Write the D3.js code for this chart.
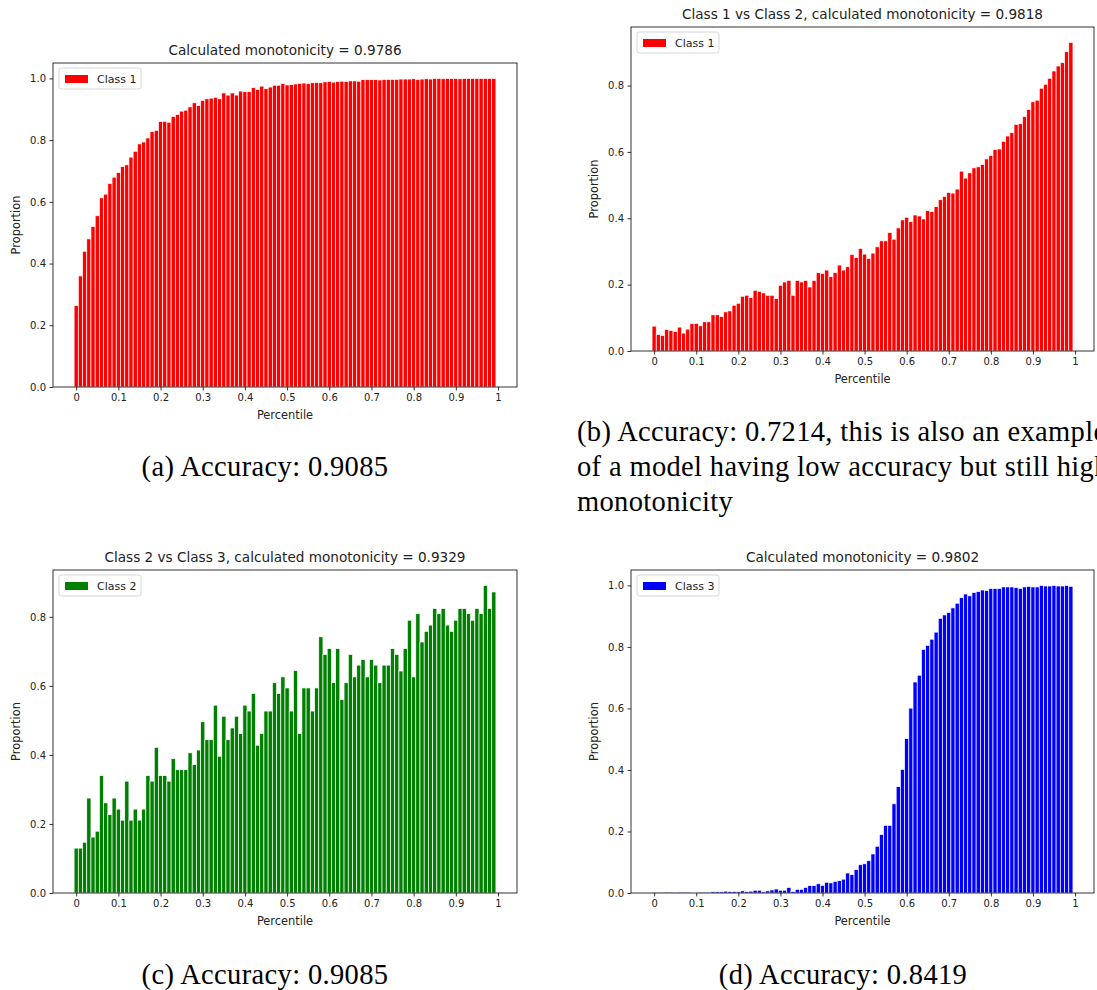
<!DOCTYPE html>
<html>
<head>
<meta charset="utf-8">
<script src="https://cdn.jsdelivr.net/npm/d3@7"></script>
<style>
  html, body { margin: 0; padding: 0; background: #fff; overflow: hidden; }
  svg { display: block; }
</style>
</head>
<body>
<svg id="fig" width="1097" height="990"></svg>
<script>
// Bar positions: one bar per percentile bin
const percentile = d3.range(100).map(i => i / 100);

// (a) proportion of Class 1 per percentile bin
const class1Proportion = [
  0.264,0.36,0.44,0.48,0.52,0.555,0.613,0.625,0.66,0.68,
  0.695,0.714,0.72,0.745,0.764,0.788,0.794,0.807,0.828,0.832,
  0.86,0.861,0.858,0.877,0.883,0.894,0.897,0.908,0.921,0.912,
  0.929,0.934,0.936,0.939,0.934,0.953,0.946,0.953,0.946,0.959,
  0.957,0.957,0.97,0.964,0.975,0.967,0.972,0.978,0.978,0.983,
  0.979,0.98,0.982,0.984,0.985,0.983,0.986,0.987,0.986,0.989,
  0.99,0.988,0.99,0.991,0.99,0.992,0.992,0.991,0.996,0.996,
  0.996,0.996,0.995,0.997,0.997,0.997,0.997,0.998,0.998,0.998,
  0.999,0.997,0.998,0.999,0.998,1,1,0.999,1,1,
  1,0.999,1,1,1,1,1,1,1,1
];

// (b) Class 1 vs Class 2
const class1vs2Proportion = [
  0.075,0.05,0.047,0.065,0.062,0.059,0.072,0.054,0.066,0.083,
  0.083,0.076,0.088,0.088,0.109,0.109,0.104,0.118,0.121,0.138,
  0.144,0.165,0.168,0.161,0.183,0.18,0.175,0.168,0.168,0.158,
  0.198,0.208,0.213,0.168,0.213,0.208,0.213,0.193,0.213,0.236,
  0.234,0.244,0.224,0.236,0.259,0.244,0.254,0.291,0.282,0.309,
  0.292,0.279,0.295,0.314,0.332,0.332,0.357,0.337,0.371,0.395,
  0.403,0.39,0.41,0.407,0.398,0.423,0.42,0.435,0.456,0.466,
  0.478,0.476,0.488,0.542,0.521,0.537,0.552,0.555,0.562,0.579,
  0.589,0.607,0.609,0.632,0.648,0.658,0.683,0.685,0.706,0.728,
  0.751,0.756,0.792,0.804,0.822,0.844,0.859,0.869,0.902,0.93
];

// (c) Class 2 vs Class 3
const class2vs3Proportion = [
  0.13,0.13,0.147,0.275,0.162,0.179,0.34,0.261,0.227,0.275,
  0.243,0.211,0.324,0.211,0.243,0.211,0.243,0.34,0.324,0.422,
  0.34,0.34,0.324,0.389,0.357,0.357,0.357,0.406,0.372,0.414,
  0.496,0.444,0.444,0.544,0.396,0.512,0.444,0.478,0.512,0.462,
  0.544,0.527,0.578,0.428,0.462,0.527,0.527,0.609,0.578,0.626,
  0.594,0.527,0.644,0.462,0.594,0.594,0.527,0.594,0.742,0.691,
  0.708,0.609,0.708,0.56,0.609,0.691,0.626,0.66,0.676,0.626,
  0.676,0.66,0.609,0.66,0.66,0.708,0.691,0.643,0.708,0.79,
  0.626,0.809,0.727,0.758,0.776,0.824,0.809,0.824,0.776,0.758,
  0.79,0.824,0.824,0.809,0.79,0.824,0.809,0.891,0.824,0.872
];

// (d) proportion of Class 3 per percentile bin
const class3Proportion = [
  0.001,0.001,0.001,0.003,0.003,0.001,0.003,0.003,0.003,0.002,
  0.002,0.003,0.003,0.001,0.004,0.004,0.004,0.006,0.005,0.005,
  0.004,0.007,0.005,0.006,0.009,0.009,0.004,0.007,0.01,0.013,
  0.009,0.009,0.018,0.005,0.012,0.012,0.018,0.024,0.024,0.03,
  0.025,0.035,0.033,0.038,0.04,0.045,0.065,0.06,0.076,0.092,
  0.095,0.105,0.127,0.152,0.19,0.22,0.22,0.29,0.346,0.402,
  0.502,0.601,0.686,0.708,0.792,0.805,0.825,0.848,0.893,0.904,
  0.912,0.927,0.942,0.96,0.972,0.966,0.977,0.98,0.985,0.983,
  0.99,0.99,0.99,0.995,0.995,0.995,0.993,0.99,0.995,0.997,
  0.995,0.995,1,0.998,0.998,1,0.998,0.998,1,0.997
];

// Axis ticks
const xTickValues = [0,0.1,0.2,0.3,0.4,0.5,0.6,0.7,0.8,0.9,1];
const xTickLabels = ["0","0.1","0.2","0.3","0.4","0.5","0.6","0.7","0.8","0.9","1"];
const yTicksToOne = [0,0.2,0.4,0.6,0.8,1.0];
const yTicksToPoint8 = [0,0.2,0.4,0.6,0.8];

// Titles, legends and captions
const titles = [
  "Calculated monotonicity = 0.9786",
  "Class 1 vs Class 2, calculated monotonicity = 0.9818",
  "Class 2 vs Class 3, calculated monotonicity = 0.9329",
  "Calculated monotonicity = 0.9802"
];
const legendLabels = ["Class 1", "Class 1", "Class 2", "Class 3"];
const captions = [
  ["(a) Accuracy: 0.9085"],
  ["(b) Accuracy: 0.7214, this is also an example",
   "of a model having low accuracy but still high",
   "monotonicity"],
  ["(c) Accuracy: 0.9085"],
  ["(d) Accuracy: 0.8419"]
];

const panels = [
  { values: class1Proportion,    color: "#ff0000", yTicks: yTicksToOne,
    box: { left: 53,  right: 517,  top: 63,  bottom: 387 },
    caption: { x: 265, y: 476, anchor: "middle" } },
  { values: class1vs2Proportion, color: "#ff0000", yTicks: yTicksToPoint8,
    box: { left: 631, right: 1094, top: 27,  bottom: 351 },
    caption: { x: 577, y: 441, anchor: "start" } },
  { values: class2vs3Proportion, color: "#008000", yTicks: yTicksToPoint8,
    box: { left: 53,  right: 517,  top: 570, bottom: 893 },
    caption: { x: 265, y: 984, anchor: "middle" } },
  { values: class3Proportion,    color: "#0000ff", yTicks: yTicksToOne,
    box: { left: 631, right: 1094, top: 570, bottom: 893 },
    caption: { x: 843, y: 984, anchor: "middle" } }
];

const svg = d3.select("#fig");
const SANS = "'DejaVu Sans', sans-serif";
const SERIF = "'Liberation Serif', 'Times New Roman', serif";
const TEXT = "#222";
const BAR_W = 0.01;

panels.forEach((p, k) => {
  const b = p.box;
  const yMax = d3.max(p.values) * 1.05;
  const x = d3.scaleLinear().domain([-0.055, 1.045]).range([b.left, b.right]);
  const y = d3.scaleLinear().domain([0, yMax]).range([b.bottom, b.top]);
  const g = svg.append("g");

  // bars
  g.append("g").selectAll("rect")
    .data(p.values)
    .join("rect")
    .attr("x", (d, i) => x(percentile[i] - BAR_W / 2))
    .attr("width", (d, i) => x(percentile[i] + BAR_W / 2) - x(percentile[i] - BAR_W / 2))
    .attr("y", d => y(d))
    .attr("height", d => y(0) - y(d))
    .attr("fill", p.color)
    .attr("stroke", "#fff")
    .attr("stroke-width", 0.7);

  // frame
  g.append("rect")
    .attr("x", b.left).attr("y", b.top)
    .attr("width", b.right - b.left).attr("height", b.bottom - b.top)
    .attr("fill", "none").attr("stroke", "#000").attr("stroke-width", 0.8);

  // x axis
  const xAxis = d3.axisBottom(x)
    .tickValues(xTickValues)
    .tickFormat((d, i) => xTickLabels[i])
    .tickSize(3.5).tickPadding(3.5);
  const gx = g.append("g").attr("transform", `translate(0,${b.bottom})`).call(xAxis);
  gx.select(".domain").remove();
  gx.selectAll("line").attr("stroke", "#000").attr("stroke-width", 0.8);
  gx.selectAll("text").attr("fill", TEXT).style("font-family", SANS).style("font-size", "10px");

  // y axis
  const yAxis = d3.axisLeft(y)
    .tickValues(p.yTicks)
    .tickFormat(d3.format(".1f"))
    .tickSize(3.5).tickPadding(3.5);
  const gy = g.append("g").attr("transform", `translate(${b.left},0)`).call(yAxis);
  gy.select(".domain").remove();
  gy.selectAll("line").attr("stroke", "#000").attr("stroke-width", 0.8);
  gy.selectAll("text").attr("fill", TEXT).style("font-family", SANS).style("font-size", "10px");

  // title
  g.append("text")
    .attr("x", (b.left + b.right) / 2).attr("y", b.top - 8)
    .attr("text-anchor", "middle")
    .attr("fill", TEXT)
    .style("font-family", SANS).style("font-size", "13.6px")
    .text(titles[k]);

  // axis labels
  g.append("text")
    .attr("x", (b.left + b.right) / 2).attr("y", b.bottom + 32)
    .attr("text-anchor", "middle")
    .attr("fill", TEXT)
    .style("font-family", SANS).style("font-size", "11.4px")
    .text("Percentile");
  g.append("text")
    .attr("transform", `translate(${b.left - 33},${(b.top + b.bottom) / 2}) rotate(-90)`)
    .attr("text-anchor", "middle")
    .attr("fill", TEXT)
    .style("font-family", SANS).style("font-size", "11.4px")
    .text("Proportion");

  // legend
  const lg = g.append("g").attr("transform", `translate(${b.left + 6},${b.top + 5})`);
  lg.append("rect")
    .attr("width", 82).attr("height", 21).attr("rx", 2.5)
    .attr("fill", "#fff").attr("fill-opacity", 0.85)
    .attr("stroke", "#cccccc").attr("stroke-width", 0.8);
  lg.append("rect")
    .attr("x", 6).attr("y", 7).attr("width", 23).attr("height", 8)
    .attr("fill", p.color);
  lg.append("text")
    .attr("x", 38).attr("y", 14.5)
    .attr("fill", TEXT)
    .style("font-family", SANS).style("font-size", "11px")
    .text(legendLabels[k]);

  // caption
  const cap = g.append("text")
    .attr("text-anchor", p.caption.anchor)
    .attr("fill", "#000")
    .style("font-family", SERIF).style("font-size", "28.5px")
    .style("letter-spacing", "0.35px");
  captions[k].forEach((line, j) => {
    cap.append("tspan")
      .attr("x", p.caption.x)
      .attr("y", p.caption.y + j * 35)
      .text(line);
  });
});
</script>
</body>
</html>
